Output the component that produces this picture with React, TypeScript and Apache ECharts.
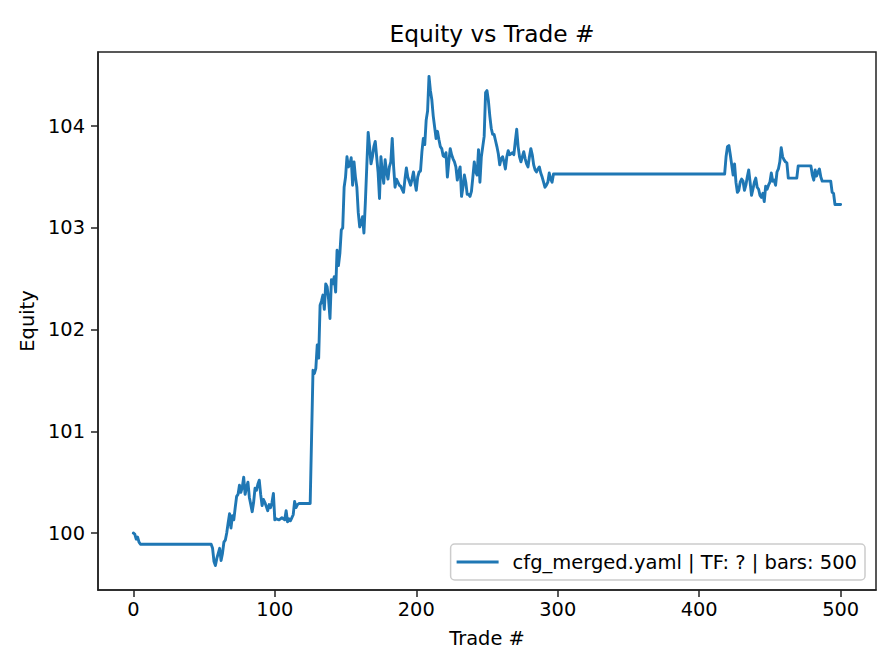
import React, { useEffect, useRef } from "react";
import * as echarts from "echarts";

const trades: number[] = [
  0, 1, 2, 3, 4, 5, 55, 56, 57, 58, 59, 60, 61, 62, 63, 64, 65, 66, 67, 68, 69,
  70, 71, 72, 73, 74, 75, 76, 77, 78, 79, 80, 81, 82, 83, 84, 85, 86, 87, 88, 89,
  90, 91, 92, 93, 94, 95, 96, 97, 98, 99, 100, 101, 103, 105, 107, 108, 109, 110,
  111, 112, 113, 114, 115, 116, 117, 125, 126, 127, 128, 129, 130, 131, 132, 133,
  134, 135, 136, 137, 138, 139, 140, 141, 142, 143, 144, 145, 146, 147, 148, 149,
  150, 151, 152, 153, 154, 155, 156, 157, 158, 159, 160, 161, 162, 163, 164, 165,
  166, 167, 168, 169, 170, 171, 172, 173, 174, 175, 176, 177, 178, 179, 180, 181,
  182, 183, 184, 185, 186, 187, 188, 189, 190, 191, 192, 193, 194, 195, 196, 197,
  198, 199, 200, 201, 202, 203, 204, 205, 206, 207, 208, 209, 210, 211, 212, 213,
  214, 215, 216, 217, 218, 219, 220, 221, 222, 223, 224, 225, 226, 227, 228, 229,
  230, 231, 232, 233, 234, 235, 236, 237, 238, 239, 240, 241, 242, 243, 244, 245,
  246, 247, 248, 249, 250, 251, 252, 253, 254, 255, 256, 257, 258, 259, 260, 261,
  262, 263, 264, 265, 266, 267, 268, 269, 270, 271, 272, 273, 274, 275, 276, 277,
  278, 279, 280, 281, 282, 283, 284, 285, 286, 287, 288, 289, 290, 291, 292, 293,
  294, 295, 296, 297, 418, 419, 420, 421, 422, 423, 424, 425, 426, 427, 428, 429,
  430, 431, 432, 433, 434, 435, 436, 437, 438, 439, 440, 441, 442, 443, 444, 445,
  446, 447, 448, 449, 450, 451, 452, 453, 454, 455, 456, 457, 458, 459, 460, 461,
  462, 463, 469, 470, 479, 480, 481, 482, 483, 484, 485, 486, 487, 493, 494, 495,
  496, 500,
];

const equity: number[] = [
  100.0, 99.99, 99.94, 99.96, 99.91, 99.89, 99.89, 99.85, 99.72, 99.68, 99.75,
  99.8, 99.85, 99.73, 99.8, 99.91, 99.93, 100.0, 100.1, 100.19, 100.05, 100.17,
  100.13, 100.25, 100.36, 100.38, 100.47, 100.4, 100.45, 100.55, 100.38, 100.45,
  100.5, 100.35, 100.28, 100.21, 100.3, 100.44, 100.42, 100.48, 100.52, 100.38,
  100.27, 100.33, 100.3, 100.26, 100.22, 100.28, 100.25, 100.3, 100.39, 100.13,
  100.14, 100.13, 100.15, 100.13, 100.22, 100.11, 100.14, 100.12, 100.15, 100.18,
  100.31, 100.25, 100.28, 100.29, 100.29, 100.95, 101.6, 101.57, 101.62, 101.85,
  101.72, 102.24, 102.28, 102.34, 102.2, 102.45, 102.42, 102.3, 102.11, 102.49,
  102.45, 102.52, 102.37, 102.78, 102.63, 102.75, 102.98, 103.0, 103.4, 103.5,
  103.7, 103.6, 103.62, 103.69, 103.42, 103.65, 103.5, 103.4, 103.15, 103.01,
  103.05, 103.11, 102.95, 103.25, 103.6, 103.94, 103.8, 103.63, 103.7, 103.8,
  103.85, 103.7, 103.55, 103.29, 103.7, 103.55, 103.44, 103.67, 103.55, 103.48,
  103.6, 103.65, 103.88, 103.6, 103.4, 103.48, 103.45, 103.42, 103.41, 103.38,
  103.35, 103.48, 103.59, 103.5, 103.46, 103.42, 103.48, 103.55, 103.45, 103.37,
  103.5, 103.55, 103.56, 103.75, 103.88, 103.82, 104.06, 104.15, 104.49, 104.35,
  104.26, 104.1, 103.99, 103.88, 103.95, 103.87, 103.8, 103.78, 103.71, 103.7,
  103.74, 103.5, 103.65, 103.78, 103.72, 103.68, 103.65, 103.6, 103.47, 103.55,
  103.6, 103.31, 103.4, 103.52, 103.45, 103.33, 103.33, 103.31, 103.36, 103.5,
  103.65, 103.55, 103.52, 103.77, 103.45, 103.7, 103.8, 103.9, 104.33, 104.35,
  104.25, 104.1, 103.98, 103.92, 103.92, 103.86, 103.8, 103.73, 103.62, 103.68,
  103.7, 103.65, 103.58, 103.7, 103.76, 103.72, 103.73, 103.74, 103.72, 103.85,
  103.97, 103.8, 103.7, 103.65, 103.7, 103.75, 103.68, 103.63, 103.6, 103.7,
  103.78, 103.72, 103.62, 103.57, 103.55, 103.58, 103.6, 103.54, 103.5, 103.45,
  103.4, 103.42, 103.45, 103.54, 103.48, 103.45, 103.53, 103.53, 103.7, 103.8,
  103.81, 103.72, 103.62, 103.52, 103.63, 103.45, 103.35, 103.37, 103.45, 103.48,
  103.46, 103.37, 103.42, 103.5, 103.57, 103.45, 103.32, 103.38, 103.45, 103.49,
  103.4, 103.38, 103.32, 103.3, 103.34, 103.26, 103.41, 103.38, 103.42, 103.45,
  103.54, 103.46, 103.47, 103.42, 103.55, 103.58, 103.65, 103.79, 103.7, 103.67,
  103.65, 103.64, 103.49, 103.49, 103.61, 103.61, 103.52, 103.47, 103.57, 103.51,
  103.55, 103.58, 103.5, 103.46, 103.46, 103.35, 103.34, 103.23, 103.23,
];

const xTicks: number[] = [0, 100, 200, 300, 400, 500];
const yTicks: number[] = [100, 101, 102, 103, 104];
const seriesName = "cfg_merged.yaml | TF: ? | bars: 500";
const titleText = "Equity vs Trade #";
const xName = "Trade #";
const yName = "Equity";

export default function App() {
  const ref = useRef<HTMLDivElement>(null);
  useEffect(() => {
    if (!ref.current) return;
    const chart = echarts.init(ref.current, undefined, { renderer: "svg" });
    const font = "DejaVu Sans";
    const spine = "#222";
    const axisCommon = {
      axisLine: { show: true, onZero: false, lineStyle: { color: spine, width: 1.5 } },
      axisTick: { show: true, length: 7, lineStyle: { color: spine, width: 1.5 } },
      splitLine: { show: false },
    };
    chart.setOption({
      animation: false,
      backgroundColor: "#fff",
      textStyle: { fontFamily: font },
      title: {
        text: titleText,
        left: 487,
        textAlign: "center",
        top: 17,
        textStyle: { fontFamily: font, fontSize: 23.3, fontWeight: "normal", color: "#000" },
      },
      grid: {
        left: 98,
        right: 20,
        top: 52,
        bottom: 82,
        show: true,
        borderColor: spine,
        borderWidth: 1.5,
        backgroundColor: "transparent",
      },
      legend: {
        right: 31,
        bottom: 92,
        padding: [8, 8, 8, 6],
        itemWidth: 42,
        itemHeight: 3,
        icon: "rect",
        backgroundColor: "rgba(255,255,255,0.8)",
        borderColor: "#cccccc",
        borderWidth: 1.5,
        borderRadius: 4,
        textStyle: { fontFamily: font, fontSize: 19.5, color: "#000", padding: [0, 0, 0, 9] },
        data: [seriesName],
      },
      xAxis: {
        type: "value",
        min: -25,
        max: 525,
        name: xName,
        nameLocation: "middle",
        nameGap: 39,
        nameTextStyle: { fontFamily: font, fontSize: 19.4, color: "#000" },
        ...axisCommon,
        axisTick: { ...axisCommon.axisTick, customValues: xTicks },
        axisLabel: {
          customValues: xTicks,
          margin: 10,
          fontFamily: font,
          fontSize: 19.4,
          color: "#000",
        },
      },
      yAxis: {
        type: "value",
        min: 99.44,
        max: 104.73,
        name: yName,
        nameLocation: "middle",
        nameGap: 58,
        nameRotate: 90,
        nameTextStyle: { fontFamily: font, fontSize: 19.4, color: "#000" },
        ...axisCommon,
        axisTick: { ...axisCommon.axisTick, customValues: yTicks },
        axisLabel: {
          customValues: yTicks,
          margin: 13,
          fontFamily: font,
          fontSize: 19.4,
          color: "#000",
          formatter: (v: number) => String(Math.round(v)),
        },
      },
      series: [
        {
          name: seriesName,
          type: "line",
          data: trades.map((t, i) => [t, equity[i]]),
          showSymbol: false,
          symbol: "none",
          color: "#1f77b4",
          lineStyle: { color: "#1f77b4", width: 2.9, join: "round", cap: "round" },
        },
      ],
    });
    return () => chart.dispose();
  }, []);
  return (
    <div
      ref={ref}
      style={{ position: "absolute", left: 0, top: 0, width: 896, height: 672 }}
    />
  );
}
